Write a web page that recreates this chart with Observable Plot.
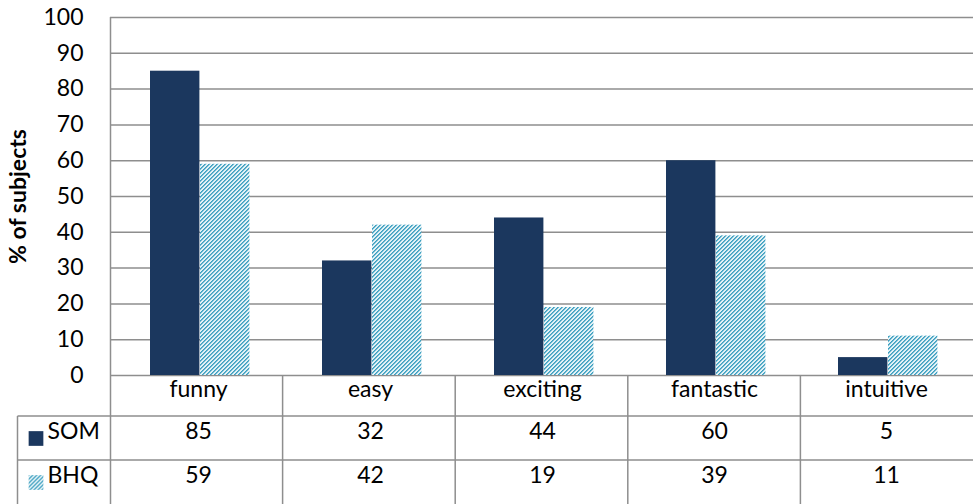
<!DOCTYPE html>
<html><head><meta charset="utf-8">
<script src="https://cdn.jsdelivr.net/npm/d3@7"></script>
<script src="https://cdn.jsdelivr.net/npm/@observablehq/plot@0.6"></script>
<style>body{margin:0;background:#fff} #chart svg{display:block}</style>
</head><body><div id="chart"></div><script>
const categories = ["funny", "easy", "exciting", "fantastic", "intuitive"];
const somValues = [85, 32, 44, 60, 5];
const bhqValues = [59, 42, 19, 39, 11];
const seriesNames = ["SOM", "BHQ"];
const yTicks = [0, 10, 20, 30, 40, 50, 60, 70, 80, 90, 100];
const yLabel = "% of subjects";

const rows = categories.map((c, i) => ({category: c, SOM: somValues[i], BHQ: bhqValues[i]}));

const SOM_COLOR = "#1b375e";
const GRID = "#8e8e8e";

function patternDefs() {
  const g = d3.create("svg:defs");
  const p = g.append("pattern").attr("id", "bhqPat").attr("patternUnits", "userSpaceOnUse")
    .attr("width", 4).attr("height", 4);
  p.append("rect").attr("width", 4).attr("height", 4).attr("fill", "#e2f1f6");
  for (let x = 0; x < 4; x++) for (let y = 0; y < 4; y++) {
    const k = (x + y) % 4;
    if (k === 0 || k === 1) p.append("rect").attr("x", x).attr("y", y).attr("width", 1).attr("height", 1)
      .attr("fill", k === 0 ? "#3f9fc0" : "#6bb8d0");
  }
  return g.node();
}

function tableLines(index, scales, values, dim) {
  const g = d3.create("svg:g").attr("stroke", GRID).attr("stroke-width", 1.5).attr("fill", "none");
  const x0 = dim.marginLeft, x1 = dim.width - dim.marginRight;
  const yb = dim.height - dim.marginBottom;
  const bw = (x1 - x0) / categories.length;
  const tableLeft = 17.5;
  const rowLines = [yb + 41, yb + 85];
  for (const y of rowLines) g.append("line").attr("x1", tableLeft).attr("x2", x1).attr("y1", y).attr("y2", y);
  g.append("line").attr("x1", tableLeft).attr("x2", tableLeft).attr("y1", yb + 41).attr("y2", dim.height);
  g.append("line").attr("x1", x0 + 0.5).attr("x2", x0 + 0.5).attr("y1", dim.marginTop).attr("y2", dim.height);
  for (let i = 1; i < categories.length; i++) {
    const x = x0 + i * bw;
    g.append("line").attr("x1", x).attr("x2", x).attr("y1", yb).attr("y2", dim.height);
  }
  return g.node();
}

const chart = Plot.plot({
  width: 974,
  height: 504,
  marginLeft: 110,
  marginRight: 1,
  marginTop: 17,
  marginBottom: 129,
  style: {fontFamily: "Lato, 'Open Sans', sans-serif", fontSize: "23px", color: "#000", background: "#fff"},
  x: {type: "band", domain: categories, padding: 0, axis: null},
  y: {domain: [0, 100], axis: null},
  marks: [
    patternDefs,
    Plot.ruleY(yTicks, {stroke: GRID, strokeWidth: 1.5}),
    Plot.barY(rows, {x: "category", y: "SOM", fill: SOM_COLOR, insetLeft: 38, insetRight: 84.6}),
    Plot.barY(rows, {x: "category", y: "BHQ", fill: "url(#bhqPat)", insetLeft: 88, insetRight: 34.6}),
    tableLines,
    Plot.axisY(yTicks, {tickSize: 0, tickPadding: 27, label: null, fill: "#000", fontSize: 23}),
    Plot.text([yLabel], {frameAnchor: "left", textAnchor: "middle", dx: -92, rotate: -90, fontWeight: "bold", fontSize: 23, fill: "#000"}),
    Plot.text(categories, {x: d => d, frameAnchor: "bottom", dy: 21, fill: "#000", fontSize: 23}),
    Plot.text(rows, {x: "category", text: "SOM", frameAnchor: "bottom", dy: 63, fill: "#000", fontSize: 23}),
    Plot.text(rows, {x: "category", text: "BHQ", frameAnchor: "bottom", dy: 107, fill: "#000", fontSize: 23}),
    Plot.dot([seriesNames[0]], {frameAnchor: "bottom-left", dx: -74.5, dy: 63, symbol: "square", r: 8.3, fill: SOM_COLOR, stroke: null}),
    Plot.dot([seriesNames[1]], {frameAnchor: "bottom-left", dx: -74.5, dy: 107, symbol: "square", r: 8.3, fill: "url(#bhqPat)", stroke: null}),
    Plot.text([seriesNames[0]], {frameAnchor: "bottom-left", dx: -63, dy: 63, textAnchor: "start", fill: "#000", fontSize: 23}),
    Plot.text([seriesNames[1]], {frameAnchor: "bottom-left", dx: -63, dy: 107, textAnchor: "start", fill: "#000", fontSize: 23})
  ]
});
document.getElementById("chart").append(chart);
</script></body></html>
